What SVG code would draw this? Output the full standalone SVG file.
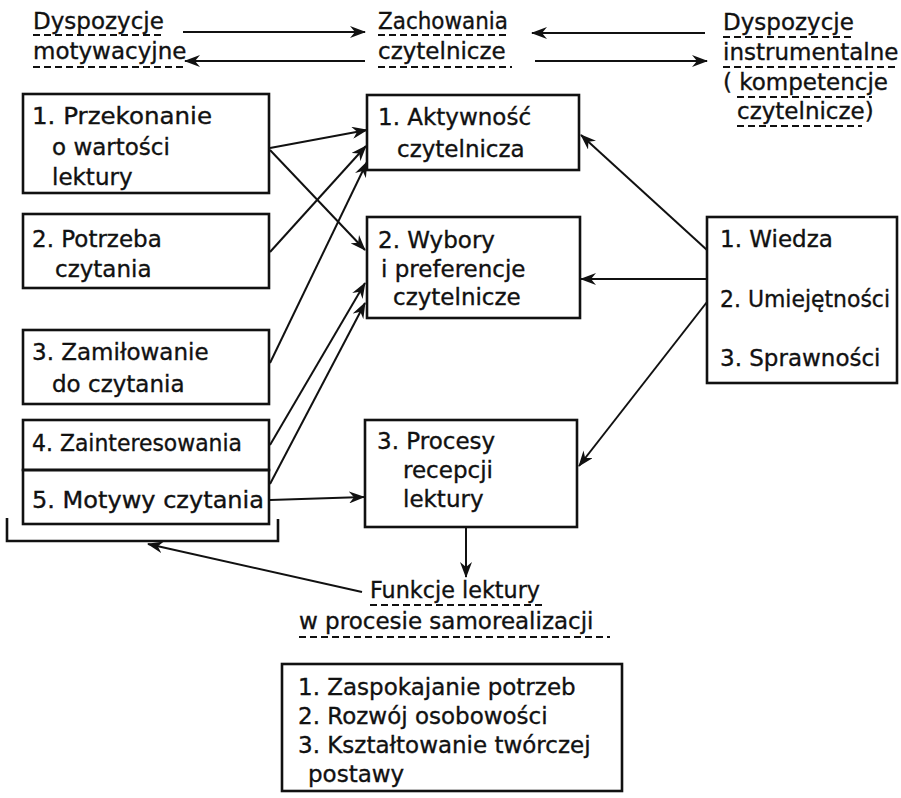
<svg xmlns="http://www.w3.org/2000/svg" width="901" height="798" viewBox="0 0 901 798">
<style>
  text { font-family: "DejaVu Sans", "Liberation Sans", sans-serif; font-size: 23px; fill: #111; stroke: #111; stroke-width: 0.35; }
  .box { fill: none; stroke: #111; stroke-width: 2.6; }
  .ln { fill: none; stroke: #111; stroke-width: 2; }
  .ul { fill: none; stroke: #111; stroke-width: 2; stroke-dasharray: 7 4; }
</style>
<defs>
  <marker id="ah" markerUnits="userSpaceOnUse" markerWidth="16" markerHeight="12" viewBox="0 0 16 12" refX="15" refY="6" orient="auto">
    <path d="M0,0 L16,6 L0,12 L5,6 z" fill="#111"/>
  </marker>
</defs>
<rect width="901" height="798" fill="#fff"/>

<g id="header-motywacyjne">
  <text x="33" y="29">Dyspozycje</text>
  <text x="33" y="59">motywacyjne</text>
  <line class="ul" x1="33" y1="35" x2="165" y2="35"/>
  <line class="ul" x1="33" y1="67" x2="184" y2="67"/>
</g>
<g id="header-zachowania">
  <text x="378" y="29" textLength="130" lengthAdjust="spacingAndGlyphs">Zachowania</text>
  <text x="378" y="59">czytelnicze</text>
  <line class="ul" x1="378" y1="35" x2="508" y2="35"/>
  <line class="ul" x1="378" y1="67" x2="512" y2="67"/>
</g>
<g id="header-instrumentalne">
  <text x="723" y="30">Dyspozycje</text>
  <text x="723" y="60">instrumentalne</text>
  <text x="723" y="90">( kompetencje</text>
  <text x="737" y="119">czytelnicze)</text>
  <line class="ul" x1="723" y1="37" x2="852" y2="37"/>
  <line class="ul" x1="723" y1="67" x2="899" y2="67"/>
  <line class="ul" x1="737" y1="97" x2="872" y2="97"/>
  <line class="ul" x1="737" y1="126" x2="862" y2="126"/>
</g>

<g id="box1">
  <rect class="box" x="23" y="94" width="246" height="99"/>
  <text x="32" y="124" textLength="180" lengthAdjust="spacingAndGlyphs">1. Przekonanie</text>
  <text x="52" y="155">o wartości</text>
  <text x="52" y="185">lektury</text>
</g>
<g id="box2">
  <rect class="box" x="23" y="214" width="246" height="74"/>
  <text x="32" y="247">2. Potrzeba</text>
  <text x="55" y="277">czytania</text>
</g>
<g id="box3">
  <rect class="box" x="23" y="330" width="246" height="74"/>
  <text x="32" y="360">3. Zamiłowanie</text>
  <text x="52" y="392">do czytania</text>
</g>
<g id="box4">
  <rect class="box" x="23" y="420" width="246" height="50"/>
  <text x="32" y="451" textLength="210" lengthAdjust="spacingAndGlyphs">4. Zainteresowania</text>
</g>
<g id="box5">
  <rect class="box" x="23" y="470" width="246" height="54"/>
  <text x="32" y="508" textLength="232" lengthAdjust="spacingAndGlyphs">5. Motywy  czytania</text>
</g>
<g id="bracket">
  <path class="box" d="M7,518 V541 H278 V519"/>
</g>

<g id="boxA">
  <rect class="box" x="367" y="95" width="212" height="75"/>
  <text x="378" y="125">1. Aktywność</text>
  <text x="397" y="157">czytelnicza</text>
</g>
<g id="boxB">
  <rect class="box" x="367" y="217" width="213" height="101"/>
  <text x="378" y="248">2. Wybory</text>
  <text x="381" y="277">i  preferencje</text>
  <text x="393" y="305">czytelnicze</text>
</g>
<g id="boxC">
  <rect class="box" x="365" y="420" width="212" height="107"/>
  <text x="377" y="449">3. Procesy</text>
  <text x="403" y="478">recepcji</text>
  <text x="403" y="507">lektury</text>
</g>
<g id="boxR">
  <rect class="box" x="707" y="217" width="190" height="166"/>
  <text x="720" y="247">1. Wiedza</text>
  <text x="720" y="307" textLength="170" lengthAdjust="spacingAndGlyphs">2. Umiejętności</text>
  <text x="720" y="366">3. Sprawności</text>
</g>

<g id="funkcje">
  <text x="370" y="598" textLength="170" lengthAdjust="spacingAndGlyphs">Funkcje  lektury</text>
  <text x="299" y="629">w  procesie  samorealizacji</text>
  <line class="ul" x1="370" y1="605" x2="542" y2="605"/>
  <line class="ul" x1="299" y1="637" x2="610" y2="637"/>
</g>
<g id="boxF">
  <rect class="box" x="282" y="664" width="340" height="127"/>
  <text x="298" y="695">1. Zaspokajanie  potrzeb</text>
  <text x="298" y="724">2. Rozwój  osobowości</text>
  <text x="298" y="753">3. Kształtowanie  twórczej</text>
  <text x="308" y="782">postawy</text>
</g>

<g id="connectors" class="ln" marker-end="url(#ah)">
  <line x1="183" y1="32" x2="365" y2="32"/>
  <line x1="365" y1="61" x2="185" y2="61"/>
  <line x1="705" y1="33" x2="532" y2="33"/>
  <line x1="535" y1="61" x2="707" y2="61"/>
  <line x1="270" y1="148" x2="367" y2="130"/>
  <line x1="270" y1="150" x2="365" y2="250"/>
  <line x1="270" y1="252" x2="366" y2="146"/>
  <line x1="270" y1="363" x2="367" y2="162"/>
  <line x1="270" y1="445" x2="365" y2="283"/>
  <line x1="270" y1="484" x2="365" y2="303"/>
  <line x1="270" y1="500" x2="364" y2="497"/>
  <line x1="707" y1="250" x2="581" y2="135"/>
  <line x1="707" y1="279" x2="581" y2="279"/>
  <line x1="707" y1="302" x2="579" y2="466"/>
  <line x1="466" y1="527" x2="466" y2="577"/>
  <line x1="362" y1="592" x2="148" y2="544"/>
</g>
</svg>
